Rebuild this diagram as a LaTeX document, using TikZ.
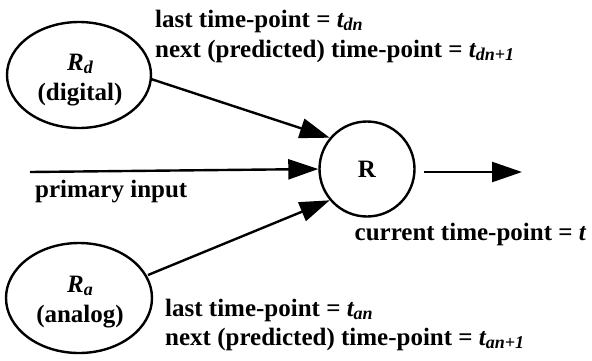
\documentclass[tikz,border=0pt]{standalone}
\usepackage{fontspec}
\setmainfont{Liberation Serif}
\usetikzlibrary{arrows.meta}
\newcommand{\subx}[1]{\raisebox{-0.3ex}{\fontsize{18}{18}\selectfont\bfseries\itshape #1}}
\begin{document}
\begin{tikzpicture}[x=1pt,y=-1pt,
  every node/.style={font=\fontsize{25}{29}\selectfont\bfseries, inner sep=0pt},
  conn/.style={line width=2.4pt, -{Triangle[length=30pt,width=20pt]}},
  lbl/.style={anchor=base west}]
\useasboundingbox (0,0) rectangle (592,360);
\draw[line width=2.4pt] (79,75) ellipse [x radius=72, y radius=53];
\node[anchor=base] (rdn) at (80,70) {\itshape R\subx{d}};
\node[anchor=base] (rdt) at (80,100) {(digital)};
\draw[line width=2.4pt] (79,298) ellipse [x radius=73, y radius=55];
\node[anchor=base] (ran) at (80,292) {\itshape R\subx{a}};
\node[anchor=base] (rat) at (80,322) {(analog)};
\node[circle, draw, line width=2.4pt, minimum size=95pt] (r) at (367,169) {R};
\coordinate (rdout) at (151,79);
\coordinate (raout) at (148,275);
\coordinate (pin) at (30,172);
\coordinate (oin) at (424,172);
\coordinate (oend) at (522,172);
\draw[conn] (rdout) -- (r.140);
\draw[conn] (raout) -- (r.-140);
\draw[conn] (pin) -- (r.west);
\draw[conn] (oin) -- (oend);
\node[lbl] (l1) at (155,27) {last time-point = {\itshape t}\subx{dn}};
\node[lbl] (l2) at (155,57) {next (predicted) time-point = {\itshape t}\subx{dn+1}};
\node[lbl] (pi) at (35,197) {primary input};
\node[anchor=base east] (ct) at (586,240) {current time-point = {\itshape t}};
\node[lbl] (l3) at (165,316) {last time-point = {\itshape t}\subx{an}};
\node[lbl] (l4) at (165,345) {next (predicted) time-point = {\itshape t}\subx{an+1}};
\end{tikzpicture}
\end{document}
